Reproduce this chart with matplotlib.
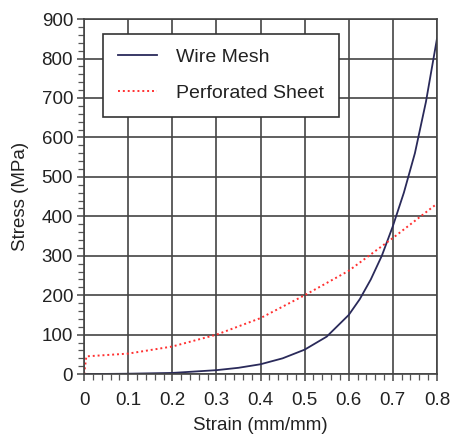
import numpy as np
import matplotlib.pyplot as plt
from matplotlib.ticker import MultipleLocator

plt.rcParams['font.family'] = ['Liberation Sans', 'DejaVu Sans']

# wire mesh
wm_strain = [0.0, 0.1, 0.2, 0.3, 0.35, 0.4, 0.45, 0.5, 0.55, 0.6, 0.625, 0.65,
             0.675, 0.7, 0.725, 0.75, 0.775, 0.8]
wm_stress = [0, 1, 3, 10, 16, 25, 40, 62, 95, 150, 190, 240,
             300, 375, 460, 560, 690, 850]

# perforated sheet
ps_strain = [0.0, 0.005, 0.1, 0.2, 0.3, 0.4, 0.5, 0.6, 0.7, 0.8]
ps_stress = [0, 45, 52, 70, 100, 142, 200, 262, 345, 432]

fig = plt.figure(figsize=(4.5, 4.34), dpi=100)
ax = fig.add_axes([0.187, 0.138, 0.784, 0.818])

ax.plot(wm_strain, wm_stress, color='#2a2a5a', lw=1.3, label='Wire Mesh')
ax.plot(ps_strain, ps_stress, color='#ff3030', lw=1.4, ls=(0, (1, 1.5)), label='Perforated Sheet')

ax.set_xlim(0, 0.8)
ax.set_ylim(0, 900)
ax.xaxis.set_major_locator(MultipleLocator(0.1))
ax.xaxis.set_minor_locator(MultipleLocator(0.02))
ax.yaxis.set_major_locator(MultipleLocator(100))
ax.yaxis.set_minor_locator(MultipleLocator(20))
ax.set_xticks(np.arange(0, 0.81, 0.1))
ax.set_xticklabels(['0', '0.1', '0.2', '0.3', '0.4', '0.5', '0.6', '0.7', '0.8'])

ax.grid(True, which='major', color='#444444', lw=1.2)
ax.tick_params(which='both', direction='out', labelsize=13.5, color='#555555', labelcolor='#222222')
ax.tick_params(which='major', length=5, width=1.2)
ax.tick_params(axis='x', which='major', pad=8)
ax.tick_params(axis='y', which='major', pad=3)
ax.tick_params(which='minor', length=4, width=0.9)
for s in ax.spines.values():
    s.set_color('#444444')
    s.set_linewidth(1.2)

ax.set_xlabel('Strain (mm/mm)', fontsize=13.5, labelpad=6, color='#222222')
ax.set_ylabel('Stress (MPa)', fontsize=13.5, labelpad=9, color='#222222')

leg = ax.legend(loc='upper left', bbox_to_anchor=(0.054, 0.958), borderaxespad=0,
                fontsize=14, fancybox=False, framealpha=1, edgecolor='#333333',
                borderpad=0.75, labelspacing=0.95, handlelength=2.0, handletextpad=1.0)
leg.get_frame().set_linewidth(1.2)
for t in leg.get_texts():
    t.set_color('#222222')

fig.savefig('out.png', dpi=100)
